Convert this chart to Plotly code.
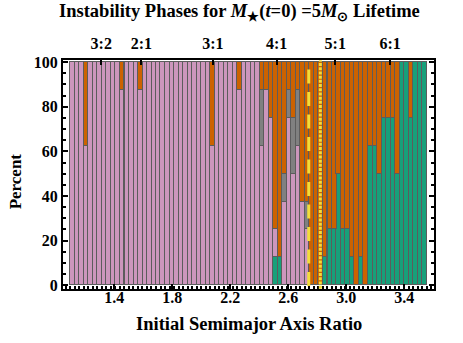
import plotly.graph_objects as go

# initial semimajor axis ratio of each simulation bin (bar centres)
axis_ratio = [
    1.112, 1.143, 1.174, 1.206, 1.237, 1.268, 1.299, 1.330, 1.361, 1.392,
    1.423, 1.454, 1.486, 1.517, 1.548, 1.579, 1.610, 1.641, 1.672, 1.703,
    1.734, 1.766, 1.797, 1.828, 1.859, 1.890, 1.921, 1.952, 1.983, 2.014,
    2.046, 2.077, 2.108, 2.139, 2.170, 2.201, 2.232, 2.263, 2.294, 2.326,
    2.357, 2.388, 2.419, 2.450, 2.481, 2.512, 2.543, 2.574, 2.606, 2.637,
    2.668, 2.699, 2.730, 2.761, 2.792, 2.823, 2.854, 2.886, 2.917, 2.948,
    2.979, 3.010, 3.041, 3.072, 3.103, 3.134, 3.166, 3.197, 3.228, 3.259,
    3.290, 3.321, 3.352, 3.383, 3.414, 3.446, 3.477, 3.508, 3.539,
]

# percent of runs per phase, stacked bottom to top: green, pink, gray, orange
pct_green = [
    0, 0, 0, 0, 0, 0, 0, 0, 0, 0, 0, 0, 0, 0, 0, 0, 0, 0, 0, 0,
    0, 0, 0, 0, 0, 0, 0, 0, 0, 0, 0, 0, 0, 0, 0, 0, 0, 0, 0, 0,
    0, 0, 0, 0, 0, 12.5, 12.5, 0, 0, 0, 0, 0, 0, 0, 0, 0, 12.5, 25, 25, 50,
    25, 25, 12.5, 0, 12.5, 0, 62.5, 62.5, 50, 75, 75, 75, 50, 100, 100, 75, 100, 100, 100,
]
pct_pink = [
    100, 100, 100, 62.5, 100, 100, 100, 100, 100, 100, 100, 87.5, 100, 100, 100, 87.5, 100, 100, 100, 100,
    100, 100, 100, 100, 100, 100, 100, 100, 100, 100, 100, 62.5, 100, 100, 100, 100, 100, 87.5, 100, 100,
    100, 100, 62.5, 87.5, 75, 12.5, 0, 37.5, 75, 50, 62.5, 37.5, 25, 0, 0, 0, 0, 0, 0, 0,
    0, 0, 0, 0, 0, 0, 0, 0, 0, 0, 0, 0, 0, 0, 0, 0, 0, 0, 0,
]
pct_gray = [
    0, 0, 0, 0, 0, 0, 0, 0, 0, 0, 0, 0, 0, 0, 0, 0, 0, 0, 0, 0,
    0, 0, 0, 0, 0, 0, 0, 0, 0, 0, 0, 0, 0, 0, 0, 0, 0, 0, 0, 0,
    0, 0, 25, 0, 0, 0, 0, 12.5, 12.5, 25, 25, 0, 12.5, 0, 0, 0, 0, 0, 0, 0,
    0, 0, 0, 0, 0, 0, 0, 0, 0, 0, 0, 0, 0, 0, 0, 0, 0, 0, 0,
]
pct_orange = [
    0, 0, 0, 37.5, 0, 0, 0, 0, 0, 0, 0, 12.5, 0, 0, 0, 12.5, 0, 0, 0, 0,
    0, 0, 0, 0, 0, 0, 0, 0, 0, 0, 0, 37.5, 0, 0, 0, 0, 0, 12.5, 0, 0,
    0, 0, 12.5, 12.5, 25, 75, 87.5, 50, 12.5, 25, 12.5, 62.5, 62.5, 100, 100, 100, 87.5, 75, 75, 50,
    75, 75, 87.5, 100, 87.5, 100, 37.5, 37.5, 50, 25, 25, 25, 50, 0, 0, 25, 0, 0, 0,
]

# resonance locations for the top axis
res_ratio = [1.310, 1.587, 2.080, 2.520, 2.924, 3.302]
res_labels = ['3:2', '2:1', '3:1', '4:1', '5:1', '6:1']

# marked ratios (yellow lines)
dashed_at = 2.741
dotted_at = 2.821

bar_w = 0.0311
font = 'Liberation Serif'

fig = go.Figure()
for vals, col in [(pct_green, '#17A07A'), (pct_pink, '#CC96BC'),
                  (pct_gray, '#808080'), (pct_orange, '#CC6200')]:
    fig.add_trace(go.Bar(x=axis_ratio, y=vals, width=bar_w, marker_color=col,
                         marker_line=dict(color='#5c5c5c', width=1), showlegend=False))

# invisible trace so the top axis is drawn
fig.add_trace(go.Scatter(x=[res_ratio[0]], y=[50], xaxis='x2', mode='markers',
                         marker=dict(opacity=0), showlegend=False, hoverinfo='skip'))

fig.add_shape(type='line', x0=dashed_at, x1=dashed_at, y0=-0.3, y1=100, xref='x', yref='y',
              line=dict(color='#F2DC3A', width=3, dash='14px,8.5px'))
fig.add_shape(type='line', x0=dotted_at, x1=dotted_at, y0=-1.5, y1=100.8, xref='x', yref='y',
              line=dict(color='#F2DC3A', width=3, dash='3px,1.2px'))

title_txt = ('Instability Phases for <i>M</i><sub>★</sub>(<i>t</i>=0) '
             '=5<i>M</i><sub>⊙</sub> Lifetime')
fig.add_annotation(text=title_txt, xref='paper', yref='paper', x=0.475, y=1.0, yshift=48,
                   xanchor='center', yanchor='middle', showarrow=False,
                   font=dict(family=font, size=18.5, weight='bold'))
fig.add_annotation(text='Initial Semimajor Axis Ratio', xref='paper', yref='paper',
                   x=0.5, y=0, yshift=-35, xanchor='center', yanchor='middle', showarrow=False,
                   font=dict(family=font, size=18.5, weight='bold'))
fig.add_annotation(text='Percent', xref='paper', yref='paper', x=0, xshift=-48, y=0.47,
                   xanchor='center', yanchor='middle', textangle=-90, showarrow=False,
                   font=dict(family=font, size=17, weight='bold'))

xr = [1.046, 3.605]
fig.update_layout(
    width=463, height=343,
    margin=dict(l=63, r=29, t=60, b=54),
    paper_bgcolor='white', plot_bgcolor='white',
    barmode='stack', bargap=0,
    font=dict(family=font, size=16, color='black', weight='bold'),
    xaxis=dict(range=xr, automargin=False, showgrid=False, zeroline=False, showline=True,
               linecolor='black', linewidth=2, mirror=True, ticks='inside', ticklen=5,
               tickwidth=2, tickcolor='black', tick0=1.4, dtick=0.4, tickformat='.1f',
               ticklabelstandoff=-7,
               minor=dict(ticks='inside', ticklen=3, tickwidth=1.5, tickcolor='black',
                          tick0=1.0966, dtick=bar_w)),
    xaxis2=dict(range=xr, automargin=False, overlaying='x', side='top', showgrid=False,
                zeroline=False, ticks='inside', ticklen=5, tickwidth=2, tickcolor='black',
                tickvals=res_ratio, ticktext=res_labels, ticklabelstandoff=7),
    yaxis=dict(range=[-1.65, 100.9], automargin=False, showgrid=False, zeroline=False,
               showline=True, linecolor='black', linewidth=2, mirror='ticks', ticks='inside',
               ticklen=5, tickwidth=2, tickcolor='black', tickvals=[0, 20, 40, 60, 80, 100],
               minor=dict(ticks='inside', ticklen=3, tickwidth=1.5, tickcolor='black', dtick=5)),
)

# drop the default 8px page margin so the figure sits at the window corner
fig.write_html('out.html', config={'displayModeBar': False},
               post_script="document.body.style.margin='0';")
